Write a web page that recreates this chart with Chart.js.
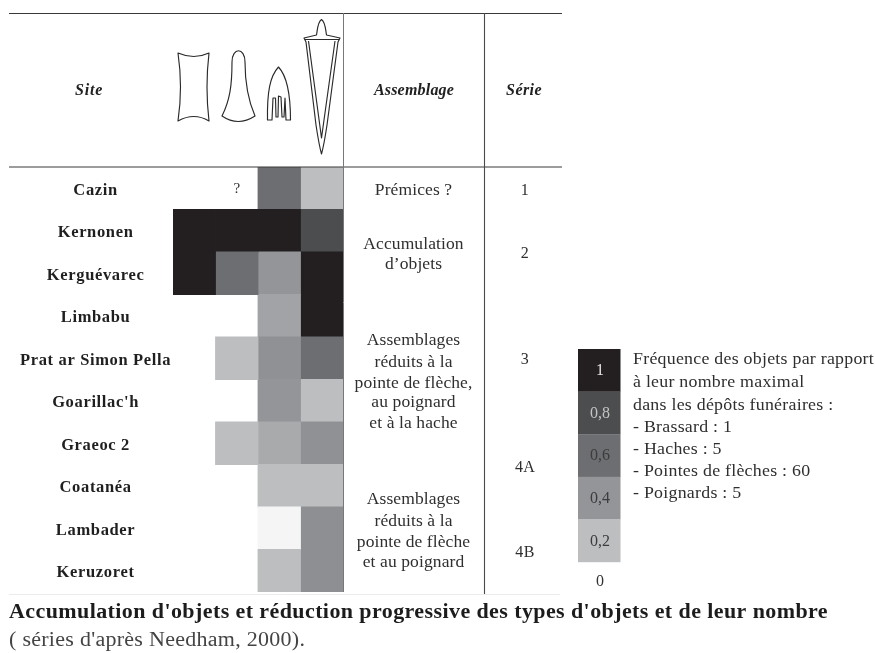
<!DOCTYPE html>
<html lang="fr">
<head>
<meta charset="utf-8">
<title>Accumulation d'objets</title>
<script src="https://cdn.jsdelivr.net/npm/chart.js@4"></script>
<style>
html,body{margin:0;padding:0;background:#fff}
#wrap{width:875px;height:653px;position:relative}
canvas{display:block;filter:blur(0.45px)}
</style>
</head>
<body>
<div id="wrap"><canvas id="c" width="875" height="653"></canvas></div>
<script>
const sites = ["Cazin","Kernonen","Kerguévarec","Limbabu","Prat ar Simon Pella","Goarillac'h","Graeoc 2","Coatanéa","Lambader","Keruzoret"];
const objectTypes = ["Brassard","Haches","Pointes de flèches","Poignards"];
const brassard = [0,1,1,0,0,0,0,0,0,0];
const haches   = [0,1,0.6,0,0.2,0,0.2,0,0,0];
const pointes  = [0.6,1,0.4,0.33,0.42,0.4,0.3,0.2,0.03,0.2];
const poignards= [0.2,0.8,1,1,0.6,0.2,0.42,0.2,0.43,0.43];
const legendLevels = [1,0.8,0.6,0.4,0.2,0];
const legendLabels = ["1","0,8","0,6","0,4","0,2","0"];
const legendNote = ["Fréquence des objets par rapport","à leur nombre maximal","dans les dépôts funéraires :","- Brassard : 1","- Haches : 5","- Pointes de flèches : 60","- Poignards : 5"];
const assemblage = [["Prémices ?"],["Accumulation","d’objets"],["Assemblages","réduits à la","pointe de flèche,","au poignard","et à la hache"],["Assemblages","réduits à la","pointe de flèche","et au poignard"]];
const series = ["1","2","3","4A","4B"];
const caption = "Accumulation d'objets et réduction progressive des types d'objets et de leur nombre";
const captionSub = "( séries d'après Needham, 2000).";

const greys = {0:[255,255,255],0.2:[188,190,192],0.4:[147,149,152],0.6:[109,110,113],0.8:[75,77,79],1:[35,31,32]};
function shade(v){
  const k=[0,0.2,0.4,0.6,0.8,1];
  for(let i=0;i<5;i++){
    if(v<=k[i+1]){
      const t=(v-k[i])/(k[i+1]-k[i]),a=greys[k[i]],b=greys[k[i+1]];
      return `rgb(${a.map((c,j)=>Math.round(c+(b[j]-c)*t)).join(',')})`;
    }
  }
  return 'rgb(35,31,32)';
}
const cellColor=v=>v===0?'rgba(0,0,0,0)':shade(v);
const columns=[brassard,haches,pointes,poignards];
const SERIF='"Liberation Serif","Times New Roman",serif';

function txt(ctx,s,x,y,font,color,align,ls,sx){
  ctx.save();
  ctx.font=font;ctx.fillStyle=color;ctx.textAlign=align||'center';ctx.textBaseline='middle';
  ctx.letterSpacing=ls||'0px';
  ctx.translate(x,y+1);ctx.scale(sx||1,1);
  ctx.fillText(s,0,0);
  ctx.restore();
}
const decor={
  id:'decor',
  beforeDraw(chart){chart.ctx.letterSpacing='0.65px';},
  afterDatasetsDraw(chart){
    const ctx=chart.ctx,xs=chart.scales.x;
    ctx.save();
    // table rules
    ctx.strokeStyle='#3a3a3c';ctx.lineWidth=1.2;
    ctx.beginPath();ctx.moveTo(9,13.5);ctx.lineTo(562,13.5);ctx.moveTo(9,167);ctx.lineTo(562,167);ctx.stroke();
    ctx.strokeStyle='#77787b';ctx.lineWidth=1;
    ctx.beginPath();ctx.moveTo(343.5,13);ctx.lineTo(343.5,592);ctx.stroke();
    ctx.strokeStyle='#4a4a4c';ctx.lineWidth=1.1;
    ctx.beginPath();ctx.moveTo(484.5,13);ctx.lineTo(484.5,594);ctx.stroke();
    ctx.strokeStyle='#ececec';ctx.lineWidth=1;
    ctx.beginPath();ctx.moveTo(9,594.5);ctx.lineTo(560,594.5);ctx.stroke();

    // headers
    const hf='italic bold 16px '+SERIF;
    txt(ctx,"Site",89,90,hf,'#222','center','0.8px');
    txt(ctx,"Assemblage",414,90,hf,'#222','center','0.2px');
    txt(ctx,"Série",524,90,hf,'#222','center','0.4px');

    // object outlines
    ctx.strokeStyle='#2a2a2a';ctx.lineWidth=1.15;ctx.lineJoin='round';
    ctx.beginPath();// brassard
    ctx.moveTo(178,53);ctx.quadraticCurveTo(194,60,209,53);ctx.quadraticCurveTo(205,87,209,121);
    ctx.quadraticCurveTo(194,112,178,121);ctx.quadraticCurveTo(183,87,178,53);ctx.closePath();ctx.stroke();
    ctx.beginPath();// hache
    ctx.moveTo(232,62);ctx.bezierCurveTo(232,47,245,47,245,62);ctx.bezierCurveTo(245,85,248,100,255,116);
    ctx.quadraticCurveTo(238,127,222,116);ctx.bezierCurveTo(230,100,232,85,232,62);ctx.closePath();ctx.stroke();
    ctx.beginPath();// pointe
    ctx.moveTo(278.5,67);ctx.bezierCurveTo(270,76,267,92,267.5,120);ctx.lineTo(272,120);ctx.lineTo(273,98);
    ctx.lineTo(275.5,98);ctx.lineTo(276,117);ctx.lineTo(278,117);ctx.lineTo(278.5,96);ctx.lineTo(281,97);ctx.lineTo(282,117);ctx.lineTo(284,117);
    ctx.lineTo(285,98);ctx.lineTo(286,120);ctx.lineTo(290.5,120);ctx.bezierCurveTo(290.5,92,287,76,278.5,67);ctx.closePath();ctx.stroke();
    ctx.beginPath();// poignard
    ctx.moveTo(321.5,19.5);ctx.bezierCurveTo(317.5,22,317.5,30,316.5,35);ctx.lineTo(304,38);ctx.lineTo(306,42);
    ctx.lineTo(316,125);ctx.quadraticCurveTo(319,145,321.5,154);ctx.quadraticCurveTo(324,145,327,125);ctx.lineTo(338,42);ctx.lineTo(340,38);
    ctx.lineTo(326.5,35);ctx.bezierCurveTo(325.5,30,325.5,22,321.5,19.5);ctx.closePath();
    ctx.moveTo(305,39.5);ctx.lineTo(339,39.5);
    ctx.moveTo(308.5,41);ctx.lineTo(321.5,138);ctx.lineTo(335,41);
    ctx.stroke();

    // unknown cell marker
    txt(ctx,"?",xs.getPixelForValue(0)+(xs.getPixelForValue(1)-xs.getPixelForValue(0))*1.5,188,'15px '+SERIF,'#333','center');

    // assemblage labels
    const col='#2f2f2f',f='17px '+SERIF;
    const ay=[[190],[244,264],[340,362,383,402,423],[499,521,542,562]];
    assemblage.forEach((g,i)=>g.forEach((s,j)=>txt(ctx,s,413.5,ay[i][j],f,col,'center','0.1px',1.03)));
    const sy=[190,253,359,467,552];
    series.forEach((s,i)=>txt(ctx,s,525,sy[i],'16px '+SERIF,col,'center','0.3px'));

    // frequency key
    legendLevels.forEach((v,i)=>{
      const top=349+i*42.6;
      if(v>0){ctx.fillStyle=shade(v);ctx.fillRect(578,top,42.5,42.8);}
      const c=v===1?'#e6e6e6':v===0.8?'#c4c4c4':'#3c3c3c';
      txt(ctx,legendLabels[i],600,v===0?581:top+21,'16px '+SERIF,v===0?'#333':c,'center');
    });
    const ly=[359,382,405,427,449,471,493];
    legendNote.forEach((s,i)=>txt(ctx,s,633,ly[i],'17px '+SERIF,col,'left','0.24px',1.05));

    // caption
    txt(ctx,caption,9,612,'bold 20px '+SERIF,'#1c1c1c','left','0.37px',1.1);
    txt(ctx,captionSub,9,640,'20px '+SERIF,'#444','left','0.25px',1.1);
    ctx.restore();
  }
};

new Chart(document.getElementById('c'),{
  type:'bar',
  data:{
    labels:sites,
    datasets:columns.map((vals,i)=>({
      label:objectTypes[i],
      data:sites.map(()=>1),
      backgroundColor:vals.map(cellColor),
      borderWidth:0,
      inflateAmount:0.4,
      barPercentage:1,
      categoryPercentage:1
    }))
  },
  options:{
    indexAxis:'y',
    responsive:false,
    animation:false,
    layout:{padding:{left:0,right:532,top:167,bottom:61}},
    plugins:{legend:{display:false},tooltip:{enabled:false},title:{display:false}},
    scales:{
      x:{stacked:true,min:0,max:4,display:false},
      y:{
        stacked:true,
        offset:true,
        afterFit(s){s.width=173;},
        grid:{display:false},
        border:{display:false},
        ticks:{crossAlign:'center',autoSkip:false,padding:0,labelOffset:2,color:'#1f1f1f',font:{family:SERIF,size:16.5,weight:'bold'}}
      }
    }
  },
  plugins:[decor]
});
</script>
</body>
</html>
